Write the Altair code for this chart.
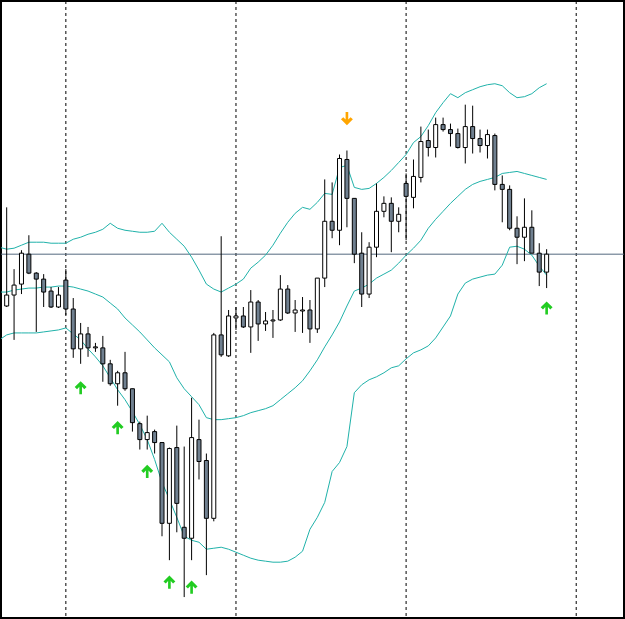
import altair as alt
import pandas as pd

# ---- candle data (price in chart points) ----
opens  = [313,324,335,365,346,340,328,312,339,310,270,285,271,271,255,235,246,230,195,179,
          187,176,95,171,91,80,179,158,100,284,263,301,303,292,317,295,298,299,330,306,
          308,309,290,341,398,389,460,421,366,325,372,408,416,398,436,422,442,479,472,495,
          490,486,472,493,481,474,484,435,430,391,382,392,366,347]
highs  = [412,350,369,384,347,345,332,332,350,321,296,292,276,283,259,248,267,230,197,203,
          189,176,171,193,172,221,199,165,286,383,309,312,312,329,319,307,309,344,334,319,
          322,319,341,440,437,465,469,421,387,377,436,423,422,412,446,460,493,490,502,502,
          496,491,515,514,490,490,486,444,434,403,421,409,376,370]
lows   = [312,279,325,345,287,312,311,311,304,261,255,262,267,237,233,213,228,187,169,169,
          165,82,58,86,21,58,139,43,97,262,262,289,291,266,278,288,281,298,305,287,
          286,276,286,332,381,374,392,356,312,321,362,402,367,387,379,411,437,463,462,488,
          473,471,456,466,467,461,429,397,389,355,358,366,333,331]
closes = [324,334,366,346,340,327,312,324,310,270,285,271,272,255,235,246,230,196,179,186,
          176,95,170,115,80,181,157,100,284,264,303,303,292,317,295,298,299,330,306,309,
          309,290,341,398,389,461,421,365,325,372,408,416,398,405,423,443,478,472,495,490,
          486,472,493,481,474,485,435,430,391,382,392,366,347,365]

# ---- Bollinger bands (index -1 .. 73) ----
band_idx = list(range(-1, 74))
upper  = [372,370,371,374,377,377,377,376,376,376,380,382,385,387,390,396,391,389,388,387,
          387,388,396,387,380,373,362,349,335,330,327,331,335,340,351,357,364,374,386,397,
          406,412,410,417,426,425,452,454,432,430,431,436,442,449,457,465,477,483,494,507,
          517,526,522,527,530,533,535,536,534,527,522,523,526,532,536]
middle = [327,327,329,330,331,331,332,332,333,333,332,330,328,325,322,316,310,301,294,287,
          279,271,264,257,241,230,222,214,201,199,199,200,201,203,206,208,210,213,219,225,
          231,238,248,259,272,284,297,313,328,331,335,341,345,349,356,364,371,379,391,400,
          408,416,423,430,435,438,440,442,446,447,448,446,444,442,440]
lower  = [279,284,286,286,286,286,287,288,289,291,285,279,270,262,253,241,229,219,207,194,
          179,159,136,119,101,82,78,76,69,70,71,69,66,63,60,58,57,56,56,57,
          61,67,89,101,116,147,156,172,226,234,239,242,246,251,253,260,266,269,273,281,
          292,303,325,336,340,342,344,345,354,372,373,370,364,353,344]

# ---- signals ----
up_idx = [10, 15, 19, 22, 25, 73]
up_val = [231, 191, 147, 36, 31, 311]
down_idx = [46]
down_val = [501]

day_sep = [8, 31, 54, 77]
level_line = [365]

candles = pd.DataFrame({
    "idx": list(range(len(opens))),
    "open": opens, "high": highs, "low": lows, "close": closes,
})
candles["dir"] = ["bull" if c >= o else "bear" for o, c in zip(opens, closes)]

bands = pd.DataFrame({
    "idx": band_idx * 3,
    "value": upper + middle + lower,
    "band": ["upper"] * len(band_idx) + ["middle"] * len(band_idx) + ["lower"] * len(band_idx),
})

ups = pd.DataFrame({"idx": up_idx, "value": up_val})
downs = pd.DataFrame({"idx": down_idx, "value": down_val})
seps = pd.DataFrame({"idx": day_sep})
lvl = pd.DataFrame({"value": level_line})

xs = alt.Scale(domain=[-0.768, 83.46], nice=False, zero=False, padding=0)
ys = alt.Scale(domain=[0, 619], nice=False, zero=False, padding=0)

X = lambda f="idx": alt.X(f"{f}:Q", scale=xs, axis=None)
Y = lambda f: alt.Y(f"{f}:Q", scale=ys, axis=None)

sep_layer = alt.Chart(seps).mark_rule(color="black", strokeWidth=1, strokeDash=[3, 3]).encode(
    x=X()
)
lvl_layer = alt.Chart(lvl).mark_rule(color="#54697F", strokeWidth=1).encode(y=Y("value"))

band_layer = alt.Chart(bands).mark_line(color="#20B2AA", strokeWidth=1, clip=True).encode(
    x=X(), y=Y("value"), detail="band:N", order="idx:Q"
)

wick_layer = alt.Chart(candles).mark_rule(color="black", strokeWidth=1).encode(
    x=X(), y=Y("low"), y2="high:Q"
)
body_layer = alt.Chart(candles).mark_bar(size=4, stroke="black", strokeWidth=1).encode(
    x=X(), y=Y("open"), y2="close:Q",
    fill=alt.Fill("dir:N", scale=alt.Scale(domain=["bull", "bear"], range=["white", "#708090"]), legend=None),
)

up_path = "M0,-1 L0.9,-0.1 L0.55,0.22 L0.2,-0.15 L0.2,1 L-0.2,1 L-0.2,-0.15 L-0.55,0.22 L-0.9,-0.1 Z"
down_path = "M0,1 L0.9,0.1 L0.55,-0.22 L0.2,0.15 L0.2,-1 L-0.2,-1 L-0.2,0.15 L-0.55,-0.22 L-0.9,0.1 Z"

up_layer = alt.Chart(ups).mark_point(shape=up_path, size=175, filled=True, color="#22CC22", opacity=1).encode(
    x=X(), y=Y("value")
)
down_layer = alt.Chart(downs).mark_point(shape=down_path, size=175, filled=True, color="#FFA500", opacity=1).encode(
    x=X(), y=Y("value")
)

chart = alt.layer(
    sep_layer, lvl_layer, band_layer, wick_layer, body_layer, up_layer, down_layer
).properties(
    width=625, height=619, padding=0,
    autosize=alt.AutoSizeParams(type="fit", contains="padding"),
    background="white",
).configure_view(stroke="black", strokeWidth=2)

chart.save("out.html", embed_options={"renderer": "svg", "actions": False})
